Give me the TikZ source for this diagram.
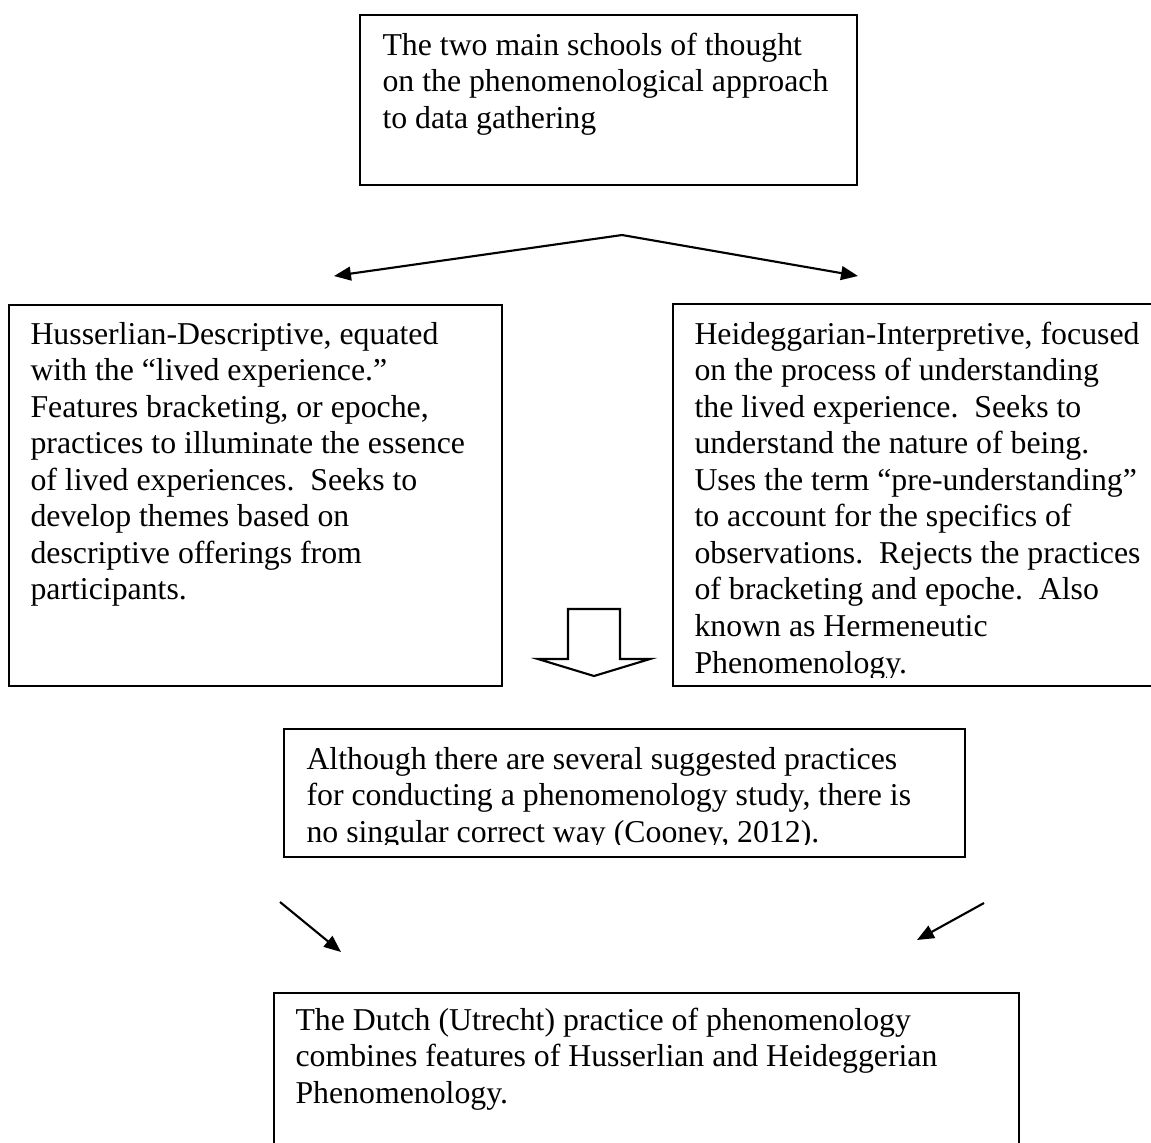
\documentclass[tikz,border=0pt]{standalone}
\usepackage{fontspec}
\setmainfont{Liberation Serif}
\usetikzlibrary{arrows.meta,fit}
\tikzset{
  box/.style={draw, line width=0.8pt, inner sep=0pt},
  txt/.style={anchor=base west, inner sep=0pt, font=\fontsize{12pt}{13.8pt}\selectfont},
  arr/.style={line width=0.8pt, -{Triangle[length=6.4pt,width=5.2pt]}},
  blockarrow/.style={draw, fill=white, line width=0.8pt, line join=miter},
}
\newcommand{\boxlines}[1]{\parbox[t]{320pt}{\raggedright #1}}
\begin{document}
\begin{tikzpicture}[x=0.3774pt, y=-0.3774pt]
\useasboundingbox (0,0) rectangle (1151,1142);
% corner coordinates of the boxes
\coordinate (ta) at (360,15);   \coordinate (tb) at (857,185);
\coordinate (la) at (9,305);    \coordinate (lb) at (502,686);
\coordinate (ra) at (673,304);  \coordinate (rb) at (1160,686);
\coordinate (ma) at (284,729);  \coordinate (mb) at (965,857);
\coordinate (ba) at (274,993);  \coordinate (bb) at (1019,1160);
\node[box, fit=(ta)(tb)] (top) {};
\node[box, fit=(la)(lb)] (left) {};
\node[box, fit=(ra)(rb)] (right) {};
\node[box, fit=(ma)(mb)] (mid) {};
\node[box, fit=(ba)(bb)] (bottom) {};
% texts
\node[txt] (toptext) at (382,55) {\boxlines{The two main schools of thought\\
on the phenomenological approach\\
to data gathering}};
\node[txt] (lefttext) at (30,344) {\boxlines{Husserlian-Descriptive, equated\\
with the “lived experience.”\\
Features bracketing, or epoche,\\
practices to illuminate the essence\\
of lived experiences.\ \ Seeks to\\
develop themes based on\\
descriptive offerings from\\
participants.}};
\begin{scope}
\clip (673,304) rectangle (1151,677);
\node[txt] (righttext) at (694,344) {\boxlines{Heideggarian-Interpretive, focused\\
on the process of understanding\\
the lived experience.\ \ Seeks to\\
understand the nature of being.\\
Uses the term “pre-understanding”\\
to account for the specifics of\\
observations.\ \ Rejects the practices\\
of bracketing and epoche.\ \ Also\\
known as Hermeneutic\\
Phenomenology.}};
\end{scope}
\begin{scope}
\clip (284,729) rectangle (965,844);
\node[txt] (midtext) at (306,769) {\boxlines{Although there are several suggested practices\\
for conducting a phenomenology study, there is\\
no singular correct way (Cooney, 2012).}};
\end{scope}
\node[txt] (bottomtext) at (295,1030) {\boxlines{The Dutch (Utrecht) practice of phenomenology\\
combines features of Husserlian and Heideggerian\\
Phenomenology.}};
% split arrows
\coordinate (apex) at (622,235);
\coordinate (ltip) at (334,276);
\coordinate (rtip) at (858,276);
\draw[arr] (apex) -- (ltip);
\draw[arr] (apex) -- (rtip);
% block arrow
\draw[blockarrow] (568,609) -- (620,609) -- (620,659) -- (650,659) -- (594,676)
  -- (538,659) -- (568,659) -- cycle;
% converging arrows
\coordinate (cl0) at (280,902); \coordinate (cl1) at (341,952);
\coordinate (cr0) at (984,903); \coordinate (cr1) at (917,940);
\draw[arr] (cl0) -- (cl1);
\draw[arr] (cr0) -- (cr1);
\end{tikzpicture}
\end{document}
